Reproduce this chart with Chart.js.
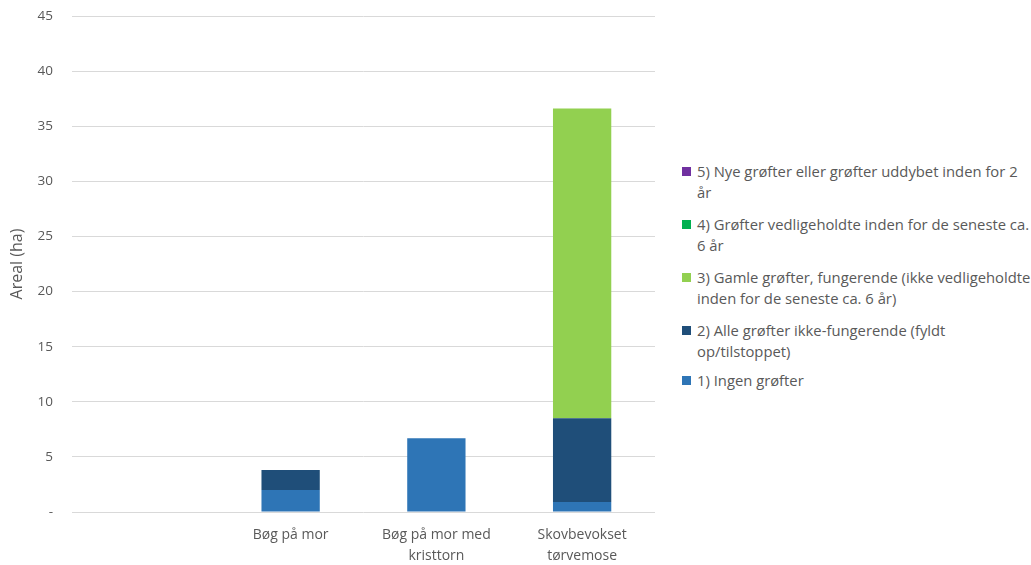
<!DOCTYPE html>
<html>
<head>
<meta charset="utf-8">
<script src="https://cdn.jsdelivr.net/npm/chart.js@4/dist/chart.umd.min.js"></script>
<style>
  html, body { margin: 0; padding: 0; background: #fff; }
  #wrap { position: relative; width: 1031px; height: 565px; }
  #chartBox { position: absolute; left: 0; top: 0; width: 665px; height: 565px; }
  #legend {
    position: absolute; left: 682px; top: 161px; width: 349px;
    font-family: "Open Sans", "Liberation Sans", sans-serif; font-size: 14.8px;
    color: #595959; line-height: 21px;
  }
  #legend .item { display: flex; margin-bottom: 11px; }
  #legend .item:nth-child(4) { margin-bottom: 8px; }
  #legend .box { flex: 0 0 9px; height: 9px; margin-top: 6px; margin-right: 6px; }
</style>
</head>
<body>
<div id="wrap">
  <div id="chartBox"><canvas id="myChart"></canvas></div>
  <div id="legend"></div>
</div>
<script>
// arealer pr. naturtype, fordelt på grøftetilstand (ha)
var categories = ['', 'Bøg på mor', ['Bøg på mor med', 'kristtorn'], ['Skovbevokset', 'tørvemose']];
var seriesNames = [
    '1) Ingen grøfter',
    '2) Alle grøfter ikke-fungerende (fyldt op/tilstoppet)',
    '3) Gamle grøfter, fungerende (ikke vedligeholdte inden for de seneste ca. 6 år)',
    '4) Grøfter vedligeholdte inden for de seneste ca. 6 år',
    '5) Nye grøfter eller grøfter uddybet inden for 2 år'
];
var ingen      = [0, 2.0, 6.7, 0.9];
var ikkeFung   = [0, 1.8, 0, 7.6];
var gamle      = [0, 0, 0, 28.1];
var vedligeh   = [0, 0, 0, 0];
var nye        = [0, 0, 0, 0];
var seriesColors = ['#2E75B6', '#1F4E79', '#92D050', '#00B050', '#7030A0'];

var values = [ingen, ikkeFung, gamle, vedligeh, nye];
var datasets = values.map(function (v, i) {
    return {
        label: seriesNames[i],
        data: v,
        backgroundColor: seriesColors[i],
        borderWidth: 0,
        barPercentage: 0.4,
        categoryPercentage: 1.0
    };
});

var fontFam = '"Open Sans", "Liberation Sans", sans-serif';

var ctx = document.getElementById('myChart').getContext('2d');
var myChart = new Chart(ctx, {
    type: 'bar',
    data: { labels: categories, datasets: datasets },
    options: {
        responsive: true,
        maintainAspectRatio: false,
        animation: false,
        layout: { padding: { top: 16, right: 10, left: 4, bottom: 0 } },
        plugins: {
            legend: { display: false },
            tooltip: { enabled: false }
        },
        scales: {
            x: {
                stacked: true,
                grid: { display: false, drawTicks: false },
                border: { display: false },
                ticks: {
                    color: '#595959',
                    font: { family: fontFam, size: 14, lineHeight: 1.5 },
                    padding: 13,
                    maxRotation: 0
                },
                afterFit: function (scale) { scale.height = 53; }
            },
            y: {
                stacked: true,
                min: 0,
                max: 45,
                grid: { color: '#D9D9D9', drawTicks: false },
                border: { display: false },
                ticks: {
                    stepSize: 5,
                    color: '#595959',
                    padding: 19,
                    font: { family: fontFam, size: 13.5 },
                    callback: function (val) { return val === 0 ? '-' : val; }
                },
                title: {
                    display: true,
                    text: 'Areal (ha)',
                    color: '#595959',
                    padding: { top: 4, bottom: 9 },
                    font: { family: fontFam, size: 16 }
                },
                // fast bredde og luft over/under aksen
                afterFit: function (scale) {
                    scale.width = 68;
                    scale.paddingTop = 8;
                    scale.paddingBottom = 8;
                }
            }
        }
    }
});

// legenden i omvendt rækkefølge, så den svarer til stablingen
var legendHtml = '';
for (var i = datasets.length - 1; i >= 0; i--) {
    legendHtml += '<div class="item"><span class="box" style="background:' +
        datasets[i].backgroundColor + '"></span><span>' + datasets[i].label + '</span></div>';
}
document.getElementById('legend').innerHTML = legendHtml;
</script>
</body>
</html>
